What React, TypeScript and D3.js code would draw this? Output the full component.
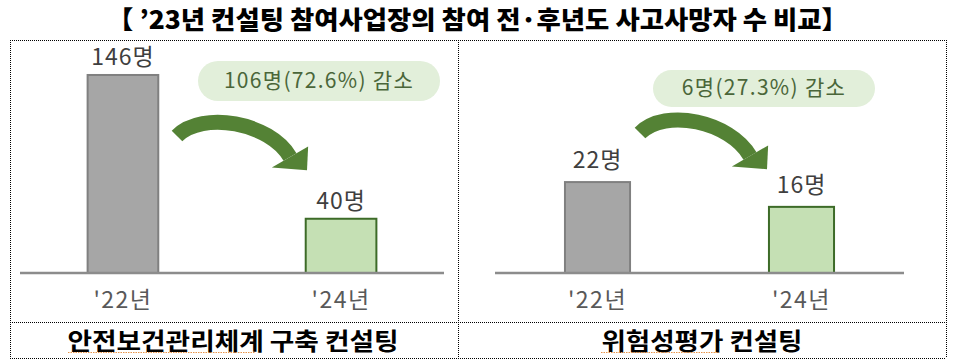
import React from 'react';
import * as d3 from 'd3';

// ---- data ----
const chartTitle = '【 ’23년 컨설팅 참여사업장의 참여 전·후년도 사고사망자 수 비교】';
const years = ["'22년", "'24년"];
const safetySystemDeaths = [146, 40];
const riskAssessmentDeaths = [22, 16];
const panelNames = ['안전보건관리체계 구축 컨설팅', '위험성평가 컨설팅'];
const reductionLabels = ['106명(72.6%) 감소', '6명(27.3%) 감소'];
const valueUnit = '명';

// ---- layout ----
const W = 954;
const H = 362;
const FONT = '"Noto Sans CJK KR", "Noto Sans", sans-serif';
const tableTop = 40;
const tableLeft = 10;
const tableRight = 946;
const tableMid = 458;
const rowDivider = 322;
const tableBottom = 358;
const baseY = 273;
const plotTop = 56;

interface PanelCfg {
  values: number[];
  yMax: number;
  x0: number;
  x1: number;
  pInner: number;
  pOuter: number;
  bubble: { cx: number; cy: number; w: number; h: number };
  arrow: { sx: number; sy: number; ex: number; ey: number };
  labelGap: number;
  nameX: number;
  nameLen: number;
  underline: [number, number];
}

const panels: PanelCfg[] = [
  {
    values: safetySystemDeaths,
    yMax: 160,
    x0: 20,
    x1: 444,
    pInner: 0.676,
    pOuter: 0.31,
    bubble: { cx: 319, cy: 81, w: 242, h: 40 },
    arrow: { sx: 177, sy: 136, ex: 290, ey: 157 },
    labelGap: 10,
    nameX: 233,
    nameLen: 331,
    underline: [68, 255],
  },
  {
    values: riskAssessmentDeaths,
    yMax: 52.5,
    x0: 495,
    x1: 904,
    pInner: 0.681,
    pOuter: 0.343,
    bubble: { cx: 764, cy: 88.5, w: 222, h: 37 },
    arrow: { sx: 640, sy: 133, ex: 750, ey: 156 },
    labelGap: 14,
    nameX: 702,
    nameLen: 201,
    underline: [601, 719],
  },
];

const GRAY_FILL = '#a6a6a6';
const GRAY_STROKE = '#808080';
const GREEN_FILL = '#c5e0b4';
const GREEN_STROKE = '#3d6b28';
const ARROW = '#548235';
const BUBBLE = '#e2efda';
const BUBBLE_TEXT = '#4a6639';

function arrowParts(a: PanelCfg['arrow']) {
  const sd = [Math.SQRT1_2, -Math.SQRT1_2];
  const ed = [0.504, 0.864];
  const c1 = [a.sx + 36 * sd[0], a.sy + 36 * sd[1]];
  const c2 = [a.ex - 40 * ed[0], a.ey - 40 * ed[1]];
  const p = d3.path();
  p.moveTo(a.sx, a.sy);
  p.bezierCurveTo(c1[0], c1[1], c2[0], c2[1], a.ex, a.ey);
  const wv = [ed[1], -ed[0]];
  const half = 21;
  const w1 = [a.ex + wv[0] * half, a.ey + wv[1] * half];
  const w2 = [a.ex - wv[0] * half, a.ey - wv[1] * half];
  const tip = [a.ex + ed[0] * 20 + wv[0] * 8, a.ey + ed[1] * 20 + wv[1] * 8];
  const head = d3.path();
  head.moveTo(w1[0], w1[1]);
  head.lineTo(tip[0], tip[1]);
  head.lineTo(w2[0], w2[1]);
  head.closePath();
  return { body: p.toString(), head: head.toString() };
}

function Panel({ cfg, idx }: { cfg: PanelCfg; idx: number }) {
  const x = d3
    .scaleBand<string>()
    .domain(years)
    .range([cfg.x0, cfg.x1])
    .paddingInner(cfg.pInner)
    .paddingOuter(cfg.pOuter);
  const y = d3.scaleLinear().domain([0, cfg.yMax]).range([baseY, plotTop]);
  const arr = arrowParts(cfg.arrow);
  const b = cfg.bubble;
  return (
    <g>
      <rect
        x={b.cx - b.w / 2}
        y={b.cy - b.h / 2}
        width={b.w}
        height={b.h}
        rx={b.h / 2}
        ry={b.h / 2}
        fill={BUBBLE}
      />
      <text
        x={b.cx}
        y={b.cy + 6.5}
        textAnchor="middle"
        fontSize={21}
        fill={BUBBLE_TEXT}
        fontFamily={FONT}
        letterSpacing={1.3}
      >
        {reductionLabels[idx]}
      </text>
      <path d={arr.body} fill="none" stroke={ARROW} strokeWidth={15} strokeLinecap="butt" />
      <path d={arr.head} fill={ARROW} />
      {cfg.values.map((v, i) => {
        const bx = x(years[i])!;
        const bw = x.bandwidth();
        const top = y(v);
        return (
          <g key={i}>
            <rect
              x={bx}
              y={top}
              width={bw}
              height={baseY - top}
              fill={i === 0 ? GRAY_FILL : GREEN_FILL}
              stroke={i === 0 ? GRAY_STROKE : GREEN_STROKE}
              strokeWidth={2}
            />
            <text
              x={bx + bw / 2}
              y={top - cfg.labelGap}
              textAnchor="middle"
              fontSize={23}
              fill="#3f3f3f"
              fontFamily={FONT}
              letterSpacing={1}
            >
              {v + valueUnit}
            </text>
            <text
              x={bx + bw / 2}
              y={308}
              textAnchor="middle"
              fontSize={23}
              fill="#595959"
              fontFamily={FONT}
              letterSpacing={1.5}
            >
              {years[i]}
            </text>
          </g>
        );
      })}
      <line x1={cfg.x0} x2={cfg.x1} y1={baseY} y2={baseY} stroke="#8c8c8c" strokeWidth={2.5} />
      <text
        x={cfg.nameX}
        y={349.5}
        textAnchor="middle"
        fontSize={24}
        fontWeight={700}
        fill="#000"
        fontFamily={FONT}
        textLength={cfg.nameLen}
        lengthAdjust="spacingAndGlyphs"
      >
        {panelNames[idx]}
      </text>
      <line
        x1={cfg.underline[0]}
        x2={cfg.underline[1]}
        y1={352.5}
        y2={352.5}
        stroke="#e8954a"
        strokeWidth={1}
        strokeDasharray="1.5,1"
      />
    </g>
  );
}

export default function App() {
  const dotted = { stroke: '#000', strokeWidth: 1, strokeDasharray: '1,1', fill: 'none' };
  return (
    <svg
      width={W}
      height={H}
      viewBox={`0 0 ${W} ${H}`}
      style={{ position: 'absolute', left: 0, top: 0, background: '#fff' }}
    >
      <rect x={0} y={0} width={W} height={H} fill="#fff" />
      <text
        x={107}
        y={28.5}
        fontSize={25}
        fontWeight={900}
        fill="#000"
        fontFamily={FONT}
        textLength={741}
        lengthAdjust="spacingAndGlyphs"
      >
        {chartTitle}
      </text>
      <line x1={tableLeft} x2={tableRight} y1={tableTop + 0.5} y2={tableTop + 0.5} {...dotted} />
      <line x1={tableLeft} x2={tableRight} y1={rowDivider + 0.5} y2={rowDivider + 0.5} {...dotted} />
      <line x1={tableLeft} x2={tableRight} y1={tableBottom + 0.5} y2={tableBottom + 0.5} {...dotted} />
      <line x1={tableLeft + 0.5} x2={tableLeft + 0.5} y1={tableTop} y2={tableBottom} {...dotted} />
      <line x1={tableMid + 0.5} x2={tableMid + 0.5} y1={tableTop} y2={tableBottom} {...dotted} />
      <line x1={tableRight + 0.5} x2={tableRight + 0.5} y1={tableTop} y2={tableBottom} {...dotted} />
      {panels.map((p, i) => (
        <Panel key={i} cfg={p} idx={i} />
      ))}
    </svg>
  );
}
